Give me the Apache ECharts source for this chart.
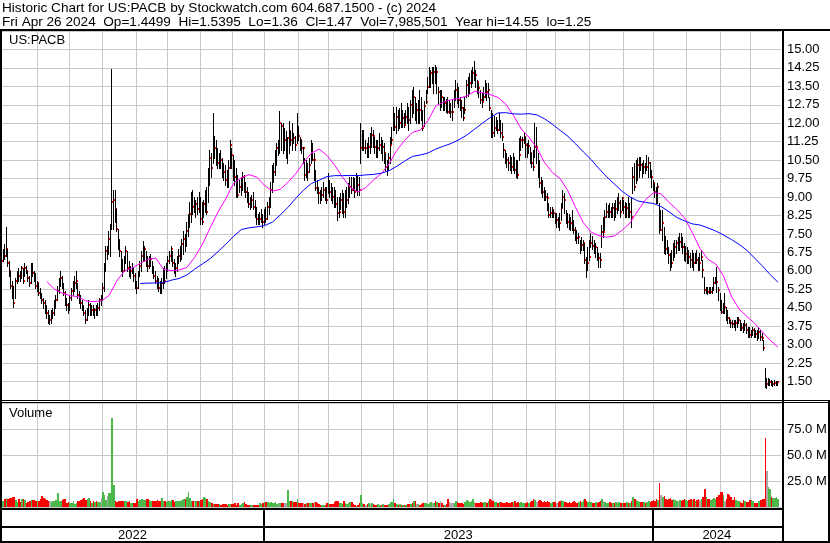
<!DOCTYPE html>
<html><head><meta charset="utf-8">
<script src="https://cdn.jsdelivr.net/npm/echarts@6/dist/echarts.min.js"></script>
<style>html,body{margin:0;padding:0;background:#fff}#chart{width:830px;height:543px}</style>
</head><body><div id="chart"></div>
<script>
// ---- data: daily bars, trading-day index 0 = early May 2022, 499 = Fri Apr 26 2024 ----
const high = [
7.0,6.9,7.1,7.8,6.9,6.4,6.0,5.6,5.4,5.7,
6.0,6.1,6.0,6.2,6.1,6.3,6.2,6.0,5.8,6.3,
6.3,6.0,5.9,5.6,5.5,5.3,5.1,4.9,4.8,4.6,
4.4,4.2,4.4,4.5,4.8,5.0,5.4,5.7,6.0,5.8,
5.5,5.2,4.9,4.7,5.0,5.3,5.6,5.8,6.0,5.5,
5.2,5.0,4.8,4.6,4.4,4.5,4.8,4.7,4.6,4.6,
4.5,4.6,4.7,4.9,5.0,5.5,6.3,7.0,7.0,7.6,
7.9,14.2,9.3,9.3,8.5,7.7,7.3,6.8,6.5,6.6,
7.0,6.8,6.4,6.2,6.3,6.1,5.9,5.6,6.0,6.4,
6.8,7.2,7.0,6.8,6.6,6.6,6.7,6.4,6.2,6.0,
5.8,5.7,5.6,5.7,6.1,6.2,6.3,6.6,6.8,7.0,
6.8,6.5,6.3,6.6,6.9,7.0,7.3,7.6,7.5,8.0,
8.3,8.8,9.2,9.3,9.0,8.9,9.0,9.2,9.0,8.8,
8.9,9.3,9.4,10.2,10.9,10.8,12.4,11.5,11.3,11.0,
10.8,10.9,10.6,10.4,10.3,10.1,10.5,11.3,11.0,10.7,
10.5,10.2,9.9,9.7,9.8,10.0,9.9,9.6,9.4,9.2,
9.0,9.1,9.2,8.9,8.6,8.3,8.4,8.5,8.3,8.5,
8.6,8.8,9.0,9.6,10.3,10.4,10.9,11.2,11.3,12.5,
12.0,12.0,11.8,11.7,11.45,12.1,11.7,12.0,11.6,11.5,
12.4,11.9,11.45,11.3,11.05,10.6,10.5,10.4,10.6,11.3,
11.2,10.8,10.1,9.7,9.4,9.3,9.4,9.6,9.4,9.4,
9.96,9.7,9.56,9.42,9.42,9.3,9.0,9.0,9.15,9.3,
9.15,9.3,9.42,9.56,9.83,9.83,9.83,9.76,9.96,9.9,
9.83,11.99,11.72,11.72,11.32,11.18,11.45,11.59,11.86,11.72,
11.45,11.3,11.32,11.59,11.45,11.32,11.18,10.78,10.51,10.78,
11.45,11.86,12.67,12.4,12.67,12.54,12.6,12.81,12.54,12.4,
12.54,12.81,12.67,12.94,13.35,13.49,13.08,12.81,12.94,13.35,
13.08,12.54,12.9,13.35,13.89,14.3,14.16,14.3,14.3,14.37,
14.3,13.49,13.35,13.35,13.08,13.08,13.0,13.08,12.94,12.81,
12.94,13.35,13.76,13.62,13.49,13.08,12.94,12.67,13.08,13.76,
13.9,14.03,14.16,14.3,14.55,14.16,13.76,13.62,13.35,13.22,
13.49,13.76,13.62,13.62,13.08,12.54,12.4,12.3,12.27,12.13,
12.4,12.13,11.99,11.18,10.91,10.78,10.64,10.71,10.64,10.78,
10.64,10.51,10.51,11.4,11.5,11.45,11.59,11.45,11.18,11.32,
11.05,10.78,10.91,11.99,11.86,10.78,10.51,9.83,9.7,9.42,
9.29,9.15,8.74,8.61,8.61,8.47,8.34,8.34,8.2,8.34,
8.74,9.29,9.15,8.47,8.34,8.3,8.2,8.47,8.07,7.8,
7.66,7.52,7.25,7.39,7.25,7.12,6.58,6.98,7.25,7.52,
7.4,7.25,7.12,6.98,6.71,6.71,7.86,8.2,8.47,8.74,
8.68,8.74,8.61,8.74,8.74,8.9,9.01,9.15,8.88,9.01,
8.88,8.81,8.74,9.01,8.74,9.01,10.23,10.37,10.51,10.6,
10.64,10.64,10.37,10.51,10.37,10.71,10.64,10.44,10.1,9.69,
9.56,9.42,9.56,8.74,8.47,8.47,7.8,7.4,7.25,6.98,
6.71,6.85,7.12,7.25,7.25,7.39,7.52,7.52,7.39,7.12,
7.0,6.98,6.85,6.71,6.85,6.71,6.71,6.85,6.58,6.71,
6.85,6.44,5.76,5.36,5.36,5.36,5.36,5.36,5.76,5.76,
6.17,5.36,5.09,4.81,4.68,5.09,4.54,4.41,4.14,4.0,
4.0,4.0,4.0,4.14,4.14,4.0,3.87,3.87,4.0,3.87,
3.73,3.73,3.59,3.73,3.66,3.6,3.59,3.73,3.59,3.46,
3.19,2.04,1.63,1.65,1.6,1.55,1.52,1.55,1.52,1.54];

const low = [
6.3,6.4,6.5,6.6,6.2,5.8,5.3,4.9,4.55,4.9,
5.5,5.6,5.6,5.7,5.5,5.8,5.9,5.6,5.4,5.5,
5.8,5.6,5.3,5.2,5.0,4.9,4.7,4.5,4.3,4.1,
3.9,3.85,3.9,4.1,4.2,4.5,4.8,5.1,5.4,5.3,
5.0,4.6,4.4,4.3,4.4,4.8,5.0,5.2,5.3,4.9,
4.7,4.5,4.4,4.2,3.9,4.0,4.2,4.2,4.2,4.2,
4.1,4.2,4.2,4.4,4.6,4.8,5.2,6.0,6.5,6.7,
6.6,7.7,7.7,8.0,7.6,6.9,6.6,6.0,5.8,6.0,
6.3,6.0,5.8,5.7,5.9,5.6,5.3,5.1,5.3,5.8,
6.0,6.4,6.4,6.2,6.0,6.1,6.2,5.9,5.7,5.5,
5.3,5.2,5.1,5.1,5.3,5.5,5.7,6.0,6.3,6.4,
6.2,5.9,5.8,6.0,6.3,6.4,6.5,6.7,6.8,7.0,
7.4,7.8,8.0,8.3,8.4,8.2,8.3,8.4,7.9,7.9,
8.2,8.4,8.3,8.8,9.5,9.8,10.4,10.6,10.3,10.2,
10.2,10.2,9.8,9.7,9.5,9.4,9.4,10.2,10.2,9.7,
9.5,9.0,9.0,9.2,9.1,9.3,9.2,9.0,8.8,8.6,
8.5,8.6,8.5,8.2,7.9,7.9,7.9,8.0,7.8,7.9,
8.0,8.1,8.3,8.6,9.2,9.6,9.9,10.3,10.7,10.8,
10.9,10.8,10.9,10.6,10.4,10.8,11.1,10.9,11.2,10.9,
11.2,11.3,10.9,10.8,10.4,9.7,9.8,9.7,10.0,10.4,
10.5,9.7,9.3,9.15,8.74,8.74,8.9,9.0,8.9,8.74,
9.15,9.0,8.9,8.74,8.6,8.6,8.07,8.2,8.5,8.34,
8.2,8.2,8.6,8.74,9.0,9.15,9.29,9.0,9.29,9.1,
9.08,10.37,10.91,10.91,10.78,10.64,10.64,10.78,11.05,11.05,
10.78,10.64,10.64,10.91,10.78,10.51,10.37,10.1,9.9,10.1,
10.37,11.18,11.72,11.72,11.59,11.72,11.8,11.86,11.86,11.86,
11.99,11.99,11.72,11.99,12.27,12.4,12.13,11.99,11.99,11.99,
12.13,11.72,11.9,12.81,13.22,13.49,13.49,13.62,13.22,13.62,
13.22,12.81,12.54,12.67,12.54,12.54,12.45,12.4,12.4,12.27,
12.13,12.67,12.94,12.81,12.67,12.54,12.27,12.13,12.4,13.08,
13.1,13.22,13.49,13.62,13.76,13.49,13.22,13.08,12.81,12.67,
12.94,13.08,12.94,13.08,12.54,11.45,11.45,11.5,11.72,11.59,
11.72,11.45,11.32,10.64,10.37,10.23,10.1,10.1,9.96,10.1,
9.96,9.83,9.79,10.5,10.9,11.05,11.18,10.64,10.64,10.78,
10.37,10.23,10.1,10.64,10.37,9.83,9.42,9.15,9.0,8.88,
8.88,8.47,8.2,8.2,8.2,8.2,7.93,7.8,7.8,7.66,
8.07,8.61,8.34,7.93,7.8,7.7,7.66,7.66,7.52,7.25,
7.12,7.12,6.71,6.85,6.85,6.3,5.76,6.03,6.44,6.98,
6.9,6.71,6.58,6.44,6.17,6.17,6.98,7.39,7.66,8.2,
8.2,8.2,8.2,8.2,8.07,8.2,8.34,8.47,8.2,8.47,
8.34,8.2,8.2,8.2,8.2,7.8,9.15,9.29,9.56,9.7,
9.83,10.1,9.83,9.96,9.96,10.1,9.83,9.83,9.42,9.29,
9.01,8.74,8.74,7.52,7.66,7.25,6.71,6.7,6.71,6.3,
6.03,6.17,6.44,6.58,6.71,6.85,6.85,6.98,6.71,6.44,
6.4,6.3,6.3,6.17,6.17,6.03,6.3,6.3,6.03,6.03,
6.44,5.76,5.09,5.09,5.05,5.09,5.09,5.09,5.22,5.49,
5.15,4.81,4.41,4.27,4.27,4.27,4.0,3.87,3.87,3.73,
3.73,3.73,3.59,3.73,3.87,3.59,3.59,3.53,3.59,3.46,
3.32,3.32,3.32,3.39,3.32,3.3,3.19,3.26,3.19,3.19,
2.78,1.29,1.25,1.36,1.35,1.36,1.33,1.36,1.36,1.36];

const close = [
6.4,6.8,6.6,6.9,6.3,6.0,5.4,5.0,4.7,5.6,
5.9,5.8,5.7,6.1,5.6,6.1,6.0,5.7,5.5,6.2,
5.9,5.8,5.4,5.5,5.1,5.0,4.8,4.7,4.4,4.3,
4.0,4.0,4.2,4.3,4.7,4.8,5.2,5.5,5.7,5.4,
5.1,4.8,4.6,4.5,4.9,5.2,5.4,5.5,5.6,5.0,
4.8,4.7,4.5,4.3,4.0,4.3,4.6,4.3,4.4,4.3,
4.4,4.3,4.5,4.8,4.8,5.3,6.0,6.8,6.8,7.3,
7.7,8.8,8.9,8.5,7.7,7.0,6.8,6.3,6.0,6.4,
6.8,6.1,5.9,6.0,6.1,5.8,5.5,5.3,5.9,6.2,
6.6,6.8,6.9,6.4,6.2,6.4,6.5,6.0,5.8,5.6,
5.5,5.3,5.2,5.5,5.9,5.6,6.2,6.4,6.6,6.9,
6.3,6.0,6.1,6.5,6.6,6.8,7.1,7.3,7.0,7.6,
8.1,8.3,8.9,8.6,8.6,8.7,8.5,8.9,8.1,8.0,
8.7,9.1,8.4,9.9,10.6,10.2,11.2,11.0,10.6,10.4,
10.7,10.5,10.1,10.0,9.7,9.6,10.2,11.1,10.7,10.0,
9.8,9.3,9.1,9.4,9.6,9.8,9.4,9.2,8.9,8.7,
8.8,8.9,8.6,8.3,8.1,8.0,8.1,8.2,8.0,8.3,
8.1,8.6,8.8,9.3,9.8,10.0,10.6,11.0,11.0,12.0,
11.9,11.3,11.3,11.3,11.4,11.7,11.3,11.5,11.4,11.1,
11.7,11.5,11.3,11.0,11.0,9.9,10.1,10.0,10.3,10.8,
10.5,10.5,9.35,9.3,9.15,9.0,9.1,9.3,9.1,8.9,
9.5,9.2,9.15,9.0,8.8,8.7,8.34,8.4,8.9,8.95,
8.4,8.6,8.9,9.15,9.42,9.3,9.29,9.2,9.83,9.5,
9.3,10.98,11.66,10.98,10.98,10.9,11.05,11.05,11.52,11.5,
11.05,10.9,11.0,11.12,11.0,11.05,10.78,10.23,10.2,10.6,
11.1,11.32,11.93,11.86,12.27,11.99,12.0,11.99,12.2,11.93,
12.27,12.2,12.13,12.74,12.67,13.08,12.54,12.54,12.6,12.54,
12.4,11.79,12.7,12.88,13.49,13.62,14.03,14.03,14.1,13.69,
14.1,13.28,13.28,13.08,12.74,12.81,12.5,12.47,12.47,12.47,
12.47,13.08,13.35,13.08,12.94,12.81,12.6,12.2,12.54,13.55,
13.6,13.62,13.89,14.03,14.03,13.96,13.69,13.42,12.94,12.88,
13.08,13.35,13.28,13.35,12.61,11.72,11.59,11.8,11.99,11.72,
11.93,11.59,11.45,10.91,10.64,10.51,10.37,10.3,10.23,10.44,
10.1,9.96,9.9,10.7,11.3,11.32,11.45,11.12,11.05,11.08,
10.78,10.4,10.23,11.05,11.05,10.44,9.56,9.42,9.2,9.15,
9.01,8.95,8.27,8.37,8.47,8.34,8.07,8.07,8.0,7.93,
8.54,9.01,8.88,8.07,8.0,7.95,7.93,7.8,7.66,7.46,
7.32,7.39,6.85,7.05,7.12,6.44,6.03,6.3,6.58,7.12,
7.0,6.85,6.98,6.58,6.51,6.44,7.59,7.59,8.2,8.41,
8.47,8.41,8.34,8.54,8.41,8.5,8.61,8.74,8.41,8.95,
8.61,8.34,8.54,8.34,8.41,8.2,9.83,9.42,9.83,10.3,
10.51,10.3,10.1,10.23,10.1,10.23,10.37,9.96,9.83,9.56,
9.22,9.15,9.42,7.66,7.66,7.93,6.98,6.9,6.85,6.64,
6.44,6.3,6.85,6.98,7.12,7.12,7.19,7.12,6.98,6.58,
6.7,6.71,6.58,6.44,6.58,6.3,6.58,6.44,6.3,6.3,
6.58,6.03,5.22,5.29,5.15,5.09,5.15,5.29,5.49,5.63,
5.56,5.22,4.68,4.34,4.54,4.54,4.2,4.07,4.0,3.87,
3.82,3.8,3.87,3.93,4.0,3.8,3.66,3.59,3.8,3.59,
3.53,3.39,3.46,3.59,3.53,3.45,3.39,3.53,3.32,3.26,
2.85,1.40,1.40,1.44,1.48,1.40,1.42,1.44,1.45,1.47];

// daily volume, millions of shares
const volume = [
5.5,6,8,8.5,8,9,9,10,10,7,
5,8,5,8,8,7,4,5,6,7,
7,7,6,5.5,5.5,8,11,9,8,7,
5.5,6,4.5,5.5,6,7,13,6,5.5,7,
8,8,4,4.5,4,4,5.5,3,4,5.5,
6,7,8,8.5,7,8,8.5,5.5,4,5.5,
4.5,5.5,5,5,9,14,12,7,11,13,
13,86,21,6,4.5,5.5,6,6,5.5,6,
5.5,4.5,5.5,4,4,4,3.5,8,5.5,7,
8,7,6.5,8,8,7,5.5,6,5.5,6,
7,5.5,6,9,6,5.5,4.5,5.5,6,7,
7,4.5,5.5,6,5.5,6,7,8,7.5,10,
14,8.5,6,5.5,6,5.5,5.5,6,7,8,
10,9,8,5.5,4.5,3.5,3,3,2.5,3,
2.5,2,2.5,3,2.5,2,2.5,2.5,2.5,3,
3.5,2,3.5,2,3,3.5,4.5,3,2,1.8,
1.5,2,2,1.5,2,2,3.5,3,3.5,4.8,
4.8,4.5,4.2,4.8,4.2,4.2,4.8,3.2,4.2,4.2,
4.2,3.5,3.5,4.2,16.3,5.8,5.8,5.8,4.5,4.8,
7.4,4.2,3.8,3.8,3.8,2.6,4.2,4.2,4.2,4.2,
4.2,4.8,4.8,4.2,2.6,2.2,2.2,2.2,1.9,3.8,
3.8,2.6,2.6,2.6,5.1,6.1,6.1,4.2,3.5,2.6,
6.1,4.2,2.6,4.2,4.8,4.8,2.6,1.9,1.0,1.6,
3.8,11.5,4.2,2.6,1.9,2.6,3.5,2.6,4.2,2.6,
2.2,1.9,2.6,1.9,1.6,2.6,2.2,1.6,1.9,3.2,
4.5,5.1,7.4,4.2,2.6,1.9,2.6,2.2,1.9,1.9,
2.2,2.6,3.2,3.2,4.2,5.4,5.4,3.2,2.6,1.6,
2.6,4.2,4.2,3.8,2.6,4.2,4.8,4.2,4.2,5.4,
4.8,4.2,5.4,4.2,1.9,1.9,2.6,8.0,5,4,
3.5,4,6,5,4,3.5,4,3,5,7,
6,5,6,8,5,4,3.5,4,5,4,
4.5,5,4,6,8,7,6,5,5,4,
4.5,5,4,3.5,4,5,4,3.5,5,4.5,
6,4,5,4,5,4,3.5,4,5,4,
5,6,8,7,5,6,7,6,5,6,
5,6,5,4,5,4.5,5,4,5,6,
7,6,5,5,4,5,4,5,6,5,
4,5,6,5,7,8,6,5,6,5,
4,4,5,4,5,6,8,6,5,4,
4,5,4,3.5,4,5,4,5,4,4,
3.5,4,5,4,4,6,10,8,7,6,
5,5,4.5,5,4,5,6,5,6,7,
6,8,7,23,12,10,11,8,7,8,
9,7,8,7,6,6,7,6,7,8,
7,6,7,8,7,8,6,7,8,7,
8,10,17,10,8,8,7,8,9,8,
10,12,14,14,12,6,8,12.5,12,10,
7,10,7,5.5,6,5,4,7,6,5,
5,7,7,5.5,4,4,4,6,7,8,
8,66,35,19,17,9.6,9,9,10,8];

// moving averages, one reading every 5 trading days (day 4, 9, 14, ...)
const MA_FIRST_DAY = 4, MA_STEP = 5;
const maFast = [ // magenta
null,null,null,null,null,5.56,5.25,5.09,4.99,4.95,
4.78,4.75,4.78,5.0,5.6,6.0,6.12,6.30,6.47,6.52,
6.06,6.01,6.03,6.14,6.55,7.08,7.75,8.39,8.93,9.56,
9.78,9.91,9.81,9.47,9.24,9.31,9.6,9.95,10.4,10.78,
10.95,10.7,10.3,9.82,9.4,9.2,9.38,9.7,9.95,10.35,
10.9,11.3,11.63,11.72,12.1,12.7,12.86,12.96,13.01,13.11,
13.30,13.24,13.17,13.05,12.78,12.32,11.77,11.43,11.0,10.4,
10.0,9.75,9.25,8.57,7.95,7.57,7.43,7.37,7.42,7.66,
7.95,8.45,8.9,9.18,9.13,8.78,8.5,8.15,7.55,6.9,
6.47,6.28,5.80,4.98,4.45,4.15,3.87,3.52,3.18,2.90];
const maSlow = [ // blue
null,null,null,null,null,null,null,null,null,null,
null,null,null,null,null,null,null,5.49,5.50,5.51,
5.52,5.62,5.69,5.83,6.07,6.28,6.50,6.78,7.08,7.40,
7.68,7.75,7.79,7.84,7.98,8.27,8.58,8.95,9.28,9.55,
9.68,9.83,9.87,9.87,9.88,9.87,9.90,9.92,9.97,10.07,
10.25,10.46,10.65,10.71,10.79,10.95,11.07,11.18,11.33,11.52,
11.76,12.0,12.23,12.42,12.43,12.38,12.37,12.39,12.34,12.18,
11.96,11.71,11.47,11.16,10.83,10.52,10.15,9.82,9.52,9.23,
9.0,8.84,8.78,8.74,8.61,8.40,8.17,8.03,7.91,7.86,
7.75,7.62,7.46,7.28,7.08,6.84,6.52,6.20,5.85,5.54];

// month grid-line positions on the trading-day scale, and year boxes
const monthTicks = [22.5,43,64.5,86,106.5,127.5,148,168.5,190.5,210,231,251.5,273.5,293,315,337,355.5,377.5,399.5,418.5,440,461.5,481];
const years = ['2022','2023','2024'];
const yearBounds = [-0.5,168.5,418.5,501];

const priceTicks = {min:0.75, max:15.75, step:0.75};
const volTicks = {min:0, max:100, step:25};

const titleLine1 = 'Historic Chart for US:PACB by Stockwatch.com 604.687.1500 - (c) 2024';
const titleLine2 = 'Fri Apr 26 2024  Op=1.4499  Hi=1.5395  Lo=1.36  Cl=1.47  Vol=7,985,501  Year hi=14.55  lo=1.25';

// ---- chart ----
const FAMILY = '"Liberation Sans", Arial, Helvetica, sans-serif';
const FSIZE = 13, HEADER_SIZE = 13.6;
const GREEN = '#4cb84c', RED = '#ff0000', GRAY = '#a8a8a8', GRID = '#c8c8c8';
const X_MIN = -0.5, X_MAX = 501;

const barData = high.map((h, i) => [i, h, low[i], close[i]]);
const volData = volume.map((v, i) => [i, v, i === 0 ? 1 : Math.sign(close[i] - close[i - 1])]);
const toLine = arr => arr.map((v, k) => [MA_FIRST_DAY + MA_STEP * k, v]).filter(p => p[1] != null);

function vLine(params, api) {
  const cs = params.coordSys;
  const x = Math.round(api.coord([api.value(0), api.value(1)])[0]) + 0.5;
  return {type: 'line', shape: {x1: x, y1: cs.y, x2: x, y2: cs.y + cs.height},
          style: {stroke: GRID, lineWidth: 1}};
}
// one OHLC-style bar: black high-low stroke, red close tick on its right
function barItem(params, api) {
  const i = api.value(0);
  const x = Math.round(api.coord([i - 0.5, api.value(1)])[0]);
  const yH = Math.round(api.coord([i, api.value(1)])[1]);
  const yL = Math.round(api.coord([i, api.value(2)])[1]);
  const yC = Math.round(api.coord([i, api.value(3)])[1]);
  return {type: 'group', children: [
    {type: 'rect', shape: {x: x, y: yH, width: 1, height: Math.max(1, yL - yH + 1)}, style: {fill: '#000'}},
    {type: 'rect', shape: {x: x + 1, y: yC - 1, width: 1, height: 2}, style: {fill: RED}}
  ]};
}
function volItem(params, api) {
  const i = api.value(0);
  const x0 = Math.round(api.coord([i - 0.5, 0])[0]);
  const x1 = Math.round(api.coord([i + 0.5, 0])[0]);
  const y0 = Math.round(api.coord([i, 0])[1]);
  const y1 = Math.round(api.coord([i, api.value(1)])[1]);
  const d = api.value(2);
  return {type: 'rect', shape: {x: x0, y: y1, width: Math.max(1, x1 - x0), height: Math.max(0, y0 - y1)},
          style: {fill: d > 0 ? GREEN : (d < 0 ? RED : GRAY)}};
}
function yearItem(params, api) {
  const cs = params.coordSys;
  const s = api.coord([api.value(0), 0.5])[0];
  const e = api.coord([api.value(1), 0.5])[0];
  const L = Math.max(s, cs.x), R = Math.min(e, cs.x + cs.width);
  const children = [{type: 'text', style: {text: years[params.dataIndex], x: (L + R) / 2, y: cs.y + 25.5,
    fontSize: FSIZE, fontFamily: FAMILY, fill: '#000', align: 'center', verticalAlign: 'middle'}}];
  if (api.value(0) > X_MIN) {
    children.push({type: 'rect', shape: {x: Math.round(s) - 1, y: cs.y, width: 2, height: cs.height}, style: {fill: '#000'}});
  }
  return {type: 'group', children: children};
}

const axisLabelBase = {show: true, margin: 6, color: '#000', fontSize: FSIZE, fontFamily: FAMILY,
  showMinLabel: false, showMaxLabel: false};

const blackRect = (x, y, w, h) => ({type: 'rect', shape: {x: x, y: y, width: w, height: h}, style: {fill: '#000'}, silent: true, z: 100});
const label = (text, x, y, size) => ({type: 'text', style: {text: text, x: x, y: y, fontSize: size || FSIZE, fontFamily: FAMILY, fill: '#000',
  align: 'left', verticalAlign: 'middle'}, silent: true, z: 100});

const option = {
  animation: false,
  backgroundColor: '#fff',
  grid: [
    {left: 1, top: 31, width: 780, height: 369},
    {left: 1, top: 403, width: 780, height: 104},
    {left: 1, top: 510, width: 780, height: 31}
  ],
  xAxis: [0, 1, 2].map(g => ({type: 'value', gridIndex: g, min: X_MIN, max: X_MAX, show: false})),
  yAxis: [
    {type: 'value', gridIndex: 0, position: 'right', min: priceTicks.min, max: priceTicks.max, interval: priceTicks.step,
     axisLine: {show: false}, axisTick: {show: false},
     splitLine: {show: true, lineStyle: {color: GRID, width: 1}},
     axisLabel: Object.assign({}, axisLabelBase, {formatter: v => v.toFixed(2)})},
    {type: 'value', gridIndex: 1, position: 'right', min: volTicks.min, max: volTicks.max, interval: volTicks.step,
     axisLine: {show: false}, axisTick: {show: false},
     splitLine: {show: true, lineStyle: {color: GRID, width: 1}},
     axisLabel: Object.assign({}, axisLabelBase, {formatter: v => v.toFixed(1) + ' M'})},
    {type: 'value', gridIndex: 2, min: 0, max: 1, show: false}
  ],
  series: [
    {type: 'custom', name: 'priceMonths', xAxisIndex: 0, yAxisIndex: 0, z: 1, silent: true,
     renderItem: vLine, data: monthTicks.map(v => [v, 1])},
    {type: 'custom', name: 'volMonths', xAxisIndex: 1, yAxisIndex: 1, z: 1, silent: true,
     renderItem: vLine, data: monthTicks.map(v => [v, 1])},
    {type: 'custom', name: 'bars', xAxisIndex: 0, yAxisIndex: 0, z: 2, silent: true,
     renderItem: barItem, encode: {x: 0, y: [1, 2]}, data: barData},
    {type: 'line', name: 'maFast', xAxisIndex: 0, yAxisIndex: 0, z: 3, silent: true, symbol: 'none',
     lineStyle: {color: '#ff00ff', width: 1}, itemStyle: {color: '#ff00ff'}, data: toLine(maFast)},
    {type: 'line', name: 'maSlow', xAxisIndex: 0, yAxisIndex: 0, z: 3, silent: true, symbol: 'none',
     lineStyle: {color: '#0000ff', width: 1}, itemStyle: {color: '#0000ff'}, data: toLine(maSlow)},
    {type: 'custom', name: 'volume', xAxisIndex: 1, yAxisIndex: 1, z: 2, silent: true,
     renderItem: volItem, encode: {x: 0, y: 1}, data: volData},
    {type: 'custom', name: 'years', xAxisIndex: 2, yAxisIndex: 2, z: 5, silent: true,
     renderItem: yearItem, data: years.map((y, k) => [yearBounds[k], yearBounds[k + 1]])}
  ],
  graphic: [
    label(titleLine1, 2, 8, HEADER_SIZE),
    label(titleLine2, 2, 22.5, HEADER_SIZE),
    label('US:PACB', 9, 40.5),
    label('Volume', 9, 413),
    blackRect(0, 29, 830, 2),
    blackRect(0, 29, 2, 514),
    blackRect(782, 29, 2, 514),
    blackRect(0, 400, 830, 1),
    blackRect(0, 402, 830, 1),
    blackRect(828, 400, 2, 143),
    blackRect(0, 508, 784, 2),
    blackRect(0, 526, 784, 2),
    blackRect(0, 541, 830, 2)
  ]
};

const chart = echarts.init(document.getElementById('chart'), null, {renderer: 'canvas', width: 830, height: 543});
chart.setOption(option);
</script></body></html>
